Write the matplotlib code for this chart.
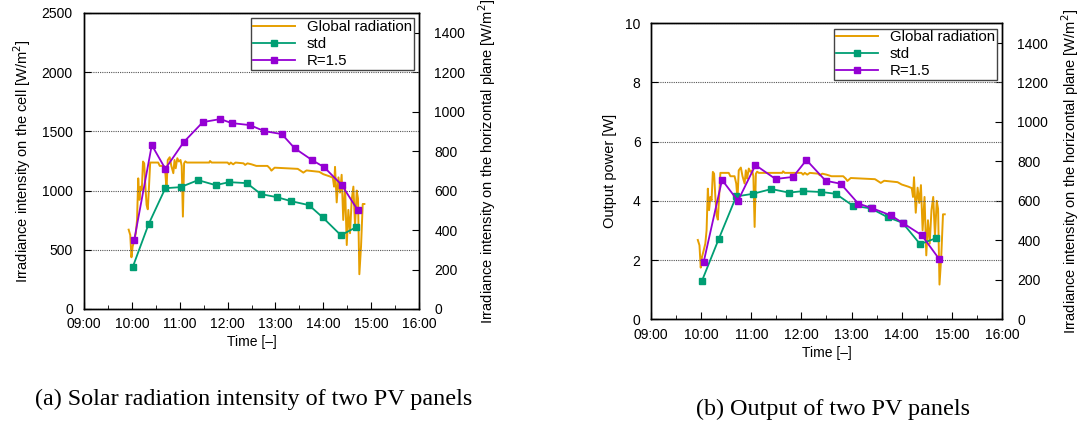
import numpy as np
import matplotlib
matplotlib.use("Agg")
import matplotlib.pyplot as plt
from matplotlib.ticker import MultipleLocator, FuncFormatter

plt.rcParams['font.family'] = ['Liberation Sans', 'DejaVu Sans']

# time in minutes after 10:00
std_t_a = [1, 21, 42, 61, 83, 105, 122, 144, 162, 182, 200, 222, 239, 262, 281]
std_a = [352, 716, 1020, 1029, 1088, 1046, 1071, 1063, 970, 944, 910, 877, 775, 623, 690]
r15_t_a = [3, 25, 42, 65, 89, 111, 125, 148, 166, 188, 204, 226, 241, 263, 283]
r15_a = [583, 1384, 1184, 1409, 1578, 1604, 1570, 1553, 1502, 1477, 1358, 1257, 1198, 1048, 837]

std_t_b = [1, 21, 42, 62, 84, 105, 122, 144, 161, 182, 203, 223, 241, 262, 281]
std_b = [1.30, 2.71, 4.15, 4.24, 4.40, 4.28, 4.33, 4.30, 4.24, 3.83, 3.75, 3.45, 3.26, 2.54, 2.74]
r15_t_b = [3, 25, 44, 65, 89, 110, 126, 149, 167, 188, 204, 227, 241, 264, 285]
r15_b = [1.93, 4.71, 4.00, 5.21, 4.74, 4.81, 5.38, 4.68, 4.58, 3.91, 3.76, 3.51, 3.26, 2.84, 2.03]

# global radiation on the horizontal plane [W/m2]
gr_t = [-4, -2, -0.5, 1, 2.5, 5, 6.5, 8, 9.5, 11, 12.5, 14, 15.5, 17, 18.5, 20, 21.5, 23,
        33, 35, 40, 42, 43.5, 45, 47.5, 49.5, 52, 53.5, 55, 57, 59, 61, 62.5, 64, 65.5, 67,
        69, 97, 98, 100, 120, 122, 124, 127, 130, 140, 142, 145, 150, 156, 170, 173, 175,
        179, 208, 211, 215, 219, 235, 240, 248, 252, 253.5, 254.7, 256.8, 259, 261, 263,
        265, 267.3, 269.4, 271.4, 273.5, 275.6, 277.7, 279.8, 281.9, 283.5, 285.2, 287.3,
        289.4, 291.5]
gr_v = [402, 375, 262, 316, 340, 384, 451, 662, 553, 620, 603, 747, 738, 620, 527, 505, 620, 742,
        742, 725, 725, 688, 608, 755, 769, 725, 688, 755, 713, 764, 747, 755, 725, 468, 738, 748,
        742, 742, 750, 742, 742, 733, 742, 733, 742, 738, 730, 738, 733, 725, 725, 713, 701,
        716, 710, 702, 691, 702, 695, 683, 672, 665, 620, 720, 540, 667, 590, 680,
        451, 620, 324, 502, 384, 553, 620, 420, 600, 560, 176, 317,
        532, 532]

c_gr = '#E69F00'
c_std = '#009E73'
c_r = '#9400D3'
fs = 10


def hours(t):
    return 10 + np.array(t) / 60.0


def setup(ax, ax2, ymax, ystep, ylabel, lpad, rpad):
    ax.set_xlim(9, 16)
    ax.set_ylim(0, ymax)
    ax.xaxis.set_major_locator(MultipleLocator(1))
    ax.xaxis.set_minor_locator(MultipleLocator(0.5))
    ax.xaxis.set_major_formatter(FuncFormatter(lambda x, p: '%02d:00' % int(round(x))))
    ax.yaxis.set_major_locator(MultipleLocator(ystep))
    ax.tick_params(axis='both', which='both', direction='in', labelsize=fs, top=False)
    ax.tick_params(axis='x', which='major', length=5, pad=6)
    ax.tick_params(axis='x', which='minor', length=3)
    ax.tick_params(axis='y', length=5, pad=lpad)
    ax.grid(axis='y', linestyle=(0, (1, 1)), color='#555555', linewidth=0.8)
    ax.set_xlabel('Time [–]', fontsize=fs, labelpad=3)
    ax.set_ylabel(ylabel, fontsize=10.5, labelpad=6)
    ax2.set_ylim(0, 1500)
    ax2.yaxis.set_major_locator(MultipleLocator(200))
    ax2.tick_params(axis='y', direction='in', labelsize=fs, length=5, pad=rpad)
    ax2.set_ylabel('Irradiance intensity on the horizontal plane [W/m$^2$]', fontsize=10.5,
                   labelpad=8)
    ax.set_zorder(ax2.get_zorder() + 1)
    ax.patch.set_visible(False)
    for a in (ax, ax2):
        for s in a.spines.values():
            s.set_linewidth(1.0)


def add_legend(ax, handles):
    leg = ax.legend(handles=handles, loc='upper right', fontsize=10.8, fancybox=False,
                    edgecolor='#444444', framealpha=1, handlelength=2.8, borderaxespad=0.35,
                    labelspacing=0.2, borderpad=0.12, handletextpad=0.8)
    leg.get_frame().set_linewidth(1.0)


fig = plt.figure(figsize=(10.85, 4.25), dpi=100)

# (a)
ax = fig.add_axes([0.0774, 0.273, 0.3088, 0.6965])
ax2 = ax.twinx()
gl, = ax2.plot(hours(gr_t), gr_v, color=c_gr, lw=1.4, label='Global radiation')
s1, = ax.plot(hours(std_t_a), std_a, color=c_std, lw=1.3, marker='s', ms=4.5, label='std')
r1, = ax.plot(hours(r15_t_a), r15_a, color=c_r, lw=1.3, marker='s', ms=4.5, label='R=1.5')
setup(ax, ax2, 2500, 500, 'Irradiance intensity on the cell [W/m$^2$]', 8, 11)
add_legend(ax, [gl, s1, r1])

# (b)
bx = fig.add_axes([0.600, 0.2487, 0.3235, 0.6965])
bx2 = bx.twinx()
gl, = bx2.plot(hours(gr_t), gr_v, color=c_gr, lw=1.4, label='Global radiation')
s1, = bx.plot(hours(std_t_b), std_b, color=c_std, lw=1.3, marker='s', ms=4.5, label='std')
r1, = bx.plot(hours(r15_t_b), r15_b, color=c_r, lw=1.3, marker='s', ms=4.5, label='R=1.5')
setup(bx, bx2, 10, 2, 'Output power [W]', 7.5, 11)
add_legend(bx, [gl, s1, r1])

fig.text(0.234, 1 - 399 / 425, '(a) Solar radiation intensity of two PV panels',
         family='Liberation Serif', fontsize=17.4, ha='center', va='center')
fig.text(0.768, 1 - 409 / 425, '(b) Output of two PV panels',
         family='Liberation Serif', fontsize=17.4, ha='center', va='center')

fig.savefig('out.png', dpi=100)
